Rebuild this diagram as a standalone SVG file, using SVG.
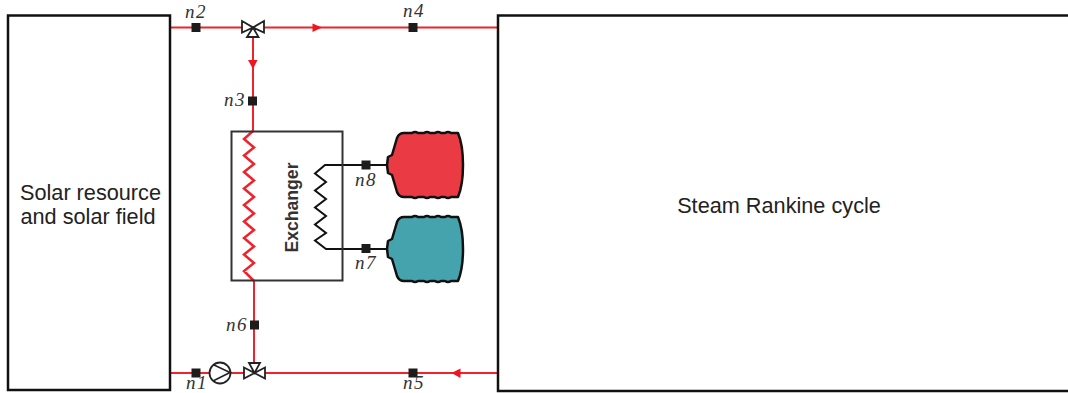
<svg xmlns="http://www.w3.org/2000/svg" width="1068" height="393" viewBox="0 0 1068 393">
<style>
.box{fill:#fff;stroke:#111;stroke-width:2.500}
.red{fill:none;stroke:#f0222c;stroke-width:2}
.zig{fill:none;stroke:#f0222c;stroke-width:2.500;stroke-linejoin:miter}
.blk{fill:none;stroke:#111;stroke-width:2}
.valve{fill:#fff;stroke:#222;stroke-width:1.800;stroke-linejoin:miter}
.dot{fill:#1c1c1c}
.head{fill:#f0141e}
.lab{font-family:"Liberation Sans",Arial,sans-serif;font-size:21.700px;fill:#222}
.n{font-family:"Liberation Serif","Times New Roman",serif;font-style:italic;font-size:19px;letter-spacing:1.500px;fill:#333}
.tank{stroke:#111;stroke-width:2.500;stroke-linejoin:round}
</style>
<defs>
<path id="tankshape" d="M387 32 L388 24 L392 22 L397 5 Q399 0 404 0 L412 0 Q415 -2 418 0 L424 0 Q427 -2 430 0 L435 0 Q438 -2 441 0 L445 0 Q448 -2 451 0 L458 0 Q463 12 463 32 Q463 52 458 64 L451 64 Q448 66 445 64 L441 64 Q438 66 435 64 L430 64 Q427 66 424 64 L418 64 Q415 66 412 64 L404 64 Q399 64 397 59 L392 42 L388 40 Z"/>
</defs>
<g id="connectors">
<path class="red" d="M170 27.500H498M253 27.500V132M254 281V373M170 373H498"/>
<path class="zig" d="M253 131 L244 139 L254 147.500 L244 155.500 L254 164 L244 172 L254 180.500 L244 188.500 L254 197 L244 205 L254 213.500 L244 221.500 L254 230 L244 238 L254 246.500 L244 254.500 L254 263 L244 271 L254 281"/>
<path class="blk" d="M390 165 H325 L315 173.500 L326 182 L315 190.500 L326 199 L315 207.500 L326 216 L315 224.500 L326 233 L315 240.500 L326 249 H390"/>
<polygon class="head" points="312.500,23.500 322,27.500 312.500,32"/>
<polygon class="head" points="248,60 257.500,60 253,69"/>
<polygon class="head" points="451.500,373 460.500,368.500 460.500,378"/>
</g>
<g id="solar-field"><rect class="box" x="8" y="15.500" width="162" height="374.500"/>
<text class="lab" x="90.500" y="199.500" text-anchor="middle">Solar resource</text>
<text class="lab" x="88" y="224" text-anchor="middle">and solar field</text></g>
<g id="rankine-cycle"><rect class="box" x="498" y="15.500" width="572" height="375.500"/>
<text class="lab" x="779" y="213" text-anchor="middle">Steam Rankine cycle</text></g>
<g id="exchanger"><rect x="231.500" y="131.500" width="111" height="149" fill="none" stroke="#333" stroke-width="2"/>
<text x="297.500" y="207.500" text-anchor="middle" transform="rotate(-90 297.500 207.500)" font-family="'Liberation Sans',Arial,sans-serif" font-weight="700" font-size="17.600" fill="#333">Exchanger</text></g>
<g id="hot-tank"><use href="#tankshape" class="tank" fill="#ea3a44" y="133"/></g>
<g id="cold-tank"><use href="#tankshape" class="tank" fill="#45a3ae" y="217"/></g>
<g id="valve-top"><path class="valve" d="M242 21 L253 27.500 L242 32.500 Z M264 21 L253 27.500 L264 32.500 Z M253 27.500 L247 37 H258.500 Z"/></g>
<g id="valve-bottom"><path class="valve" d="M244 367.500 L254.500 373 L244 378.500 Z M265 367.500 L254.500 373 L265 378.500 Z M254.500 373 L249 363 H260 Z"/></g>
<g id="pump"><circle cx="220" cy="373" r="10.500" fill="#fff" stroke="#222" stroke-width="1.800"/><path d="M213 364.500 L230 372.500 L213 381" fill="none" stroke="#222" stroke-width="1.600"/></g>
<g id="n1"><rect class="dot" x="191.500" y="368.500" width="9" height="9"/><text class="n" x="186" y="388.500">n1</text></g>
<g id="n2"><rect class="dot" x="191.500" y="23" width="9" height="9"/><text class="n" x="185" y="18">n2</text></g>
<g id="n3"><rect class="dot" x="248" y="96.500" width="9" height="9"/><text class="n" x="224" y="106">n3</text></g>
<g id="n4"><rect class="dot" x="408.500" y="23" width="9" height="9"/><text class="n" x="403" y="17">n4</text></g>
<g id="n5"><rect class="dot" x="408.500" y="368.500" width="9" height="9"/><text class="n" x="403" y="388.500">n5</text></g>
<g id="n6"><rect class="dot" x="250" y="320.500" width="9" height="9"/><text class="n" x="226" y="331">n6</text></g>
<g id="n7"><rect class="dot" x="361.500" y="244" width="9" height="9"/><text class="n" x="355" y="269">n7</text></g>
<g id="n8"><rect class="dot" x="361.500" y="160.500" width="9" height="9"/><text class="n" x="355" y="186">n8</text></g>
</svg>
